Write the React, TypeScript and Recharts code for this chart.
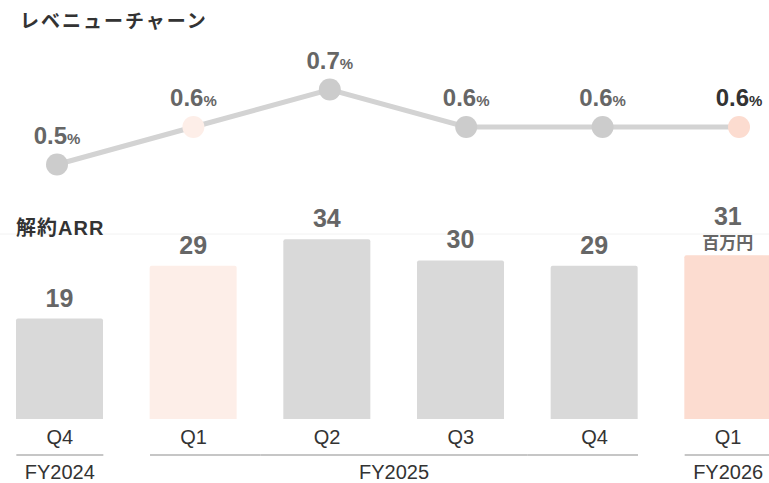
import { BarChart, Bar, Cell, LineChart, Line, XAxis, YAxis, LabelList, ReferenceLine } from "recharts";

// ---------------------------------------------------------------------------
// Data
// ---------------------------------------------------------------------------

const QUARTERS = ["Q4", "Q1", "Q2", "Q3", "Q4", "Q1"];
const FISCAL_YEARS = ["FY2024", "FY2025", "FY2025", "FY2025", "FY2025", "FY2026"];
const CHURN_RATE = [0.5, 0.6, 0.7, 0.6, 0.6, 0.6]; // %
const CHURN_ARR = [19, 29, 34, 30, 29, 31]; // 百万円

const data = QUARTERS.map((q, i) => ({
  key: `${FISCAL_YEARS[i]}-${q}`,
  rate: CHURN_RATE[i],
  arr: CHURN_ARR[i],
}));

// ---------------------------------------------------------------------------
// Styles
// ---------------------------------------------------------------------------

const GRAY = "#d9d9d9";
const DOT_GRAY = "#cccccc";
const PEACH_LIGHT = "#fdeee8";
const PEACH = "#fcdcd0";
const FILLS_BAR = [GRAY, PEACH_LIGHT, GRAY, GRAY, GRAY, PEACH];
const FILLS_DOT = [DOT_GRAY, PEACH_LIGHT, DOT_GRAY, DOT_GRAY, DOT_GRAY, PEACH];
const LATIN = "'Liberation Sans', Arial, sans-serif";
const JP = "'Liberation Sans', 'Noto Sans CJK JP', sans-serif";

const BAR_SIZE = 87;
const BAND = 802 / QUARTERS.length;

// ---------------------------------------------------------------------------
// Custom renderers
// ---------------------------------------------------------------------------

function RateLabel(props: any) {
  const { x, y, value, index } = props;
  const last = index === CHURN_RATE.length - 1;
  return (
    <text
      x={x}
      y={y - 21}
      textAnchor="middle"
      fontFamily={LATIN}
      fontWeight="bold"
      fill={last ? "#333333" : "#666666"}
    >
      <tspan fontSize={24}>{Number(value).toFixed(1)}</tspan>
      <tspan fontSize={15}>%</tspan>
    </text>
  );
}

function ArrLabel(props: any) {
  const { x, y, width, value, index } = props;
  const cx = x + width / 2;
  if (index === CHURN_ARR.length - 1) {
    return (
      <g>
        <text x={cx} y={y - 30} textAnchor="middle" fontFamily={LATIN} fontWeight="bold" fontSize={25} fill="#666666">
          {value}
        </text>
        <text x={cx} y={y - 6} textAnchor="middle" fontFamily={JP} fontWeight="bold" fontSize={17} fill="#666666">
          百万円
        </text>
      </g>
    );
  }
  return (
    <text x={cx} y={y - 12} textAnchor="middle" fontFamily={LATIN} fontWeight="bold" fontSize={25} fill="#666666">
      {value}
    </text>
  );
}

function QuarterTick(props: any) {
  const { x, y, index } = props;
  const fy = FISCAL_YEARS[index];
  const groupStart = index === 0 || FISCAL_YEARS[index - 1] !== fy;
  const groupEnd = index === FISCAL_YEARS.length - 1 || FISCAL_YEARS[index + 1] !== fy;
  const left = groupStart ? x - BAR_SIZE / 2 : x - BAND / 2;
  const right = groupEnd ? x + BAR_SIZE / 2 : x + BAND / 2;
  const groupLen = FISCAL_YEARS.filter((f) => f === fy).length;
  return (
    <g>
      <text x={x} y={y + 25} textAnchor="middle" fontFamily={LATIN} fontSize={20} fill="#333333">
        {QUARTERS[index]}
      </text>
      <line x1={left} x2={right} y1={y + 36} y2={y + 36} stroke="#b3b3b3" strokeWidth={1.5} />
      {groupStart && (
        <text
          x={x + ((groupLen - 1) * BAND) / 2}
          y={y + 60}
          textAnchor="middle"
          fontFamily={LATIN}
          fontSize={20}
          fill="#333333"
        >
          {fy}
        </text>
      )}
    </g>
  );
}

// ---------------------------------------------------------------------------
// Component
// ---------------------------------------------------------------------------

export default function App() {
  return (
    <div
      style={{
        position: "fixed",
        left: 0,
        top: 0,
        width: 769,
        height: 483,
        overflow: "hidden",
        background: "#ffffff",
      }}
    >
      <div
        style={{
          position: "absolute",
          left: 20,
          top: 6,
          fontFamily: JP,
          fontWeight: "bold",
          fontSize: 19,
          letterSpacing: 2,
          color: "#333333",
        }}
      >
        レベニューチャーン
      </div>

      {/* Churn rate line */}
      <div style={{ position: "absolute", left: 0, top: 0 }}>
        <LineChart width={769} height={202} data={data} margin={{ top: 52, right: 30, bottom: 0, left: 57 }}>
          <XAxis dataKey="key" hide scale="point" />
          <YAxis hide domain={[0.4, 0.8]} />
          <Line
            dataKey="rate"
            stroke="#d3d3d3"
            strokeWidth={5}
            isAnimationActive={false}
            dot={(p: any) => (
              <circle key={`dot-${p.index}`} cx={p.cx} cy={p.cy} r={11} fill={FILLS_DOT[p.index]} />
            )}
            activeDot={false}
          >
            <LabelList dataKey="rate" content={RateLabel} />
          </Line>
        </LineChart>
      </div>

      {/* Churned ARR bars */}
      <div style={{ position: "absolute", left: -8, top: 0 }}>
        <BarChart width={810} height={483} data={data} margin={{ top: 234, right: 7, bottom: 4, left: 1 }}>
          <XAxis
            dataKey="key"
            height={60}
            axisLine={false}
            tickLine={false}
            tickSize={0}
            tickMargin={0}
            interval={0}
            tick={(p: any) => <QuarterTick {...p} />}
          />
          <YAxis hide domain={[0, 35]} />
          <ReferenceLine y={35} stroke="#f2f2f2" strokeWidth={1} />
          <Bar dataKey="arr" barSize={BAR_SIZE} radius={[2, 2, 0, 0]} isAnimationActive={false}>
            {data.map((d, i) => (
              <Cell key={d.key} fill={FILLS_BAR[i]} />
            ))}
            <LabelList dataKey="arr" content={ArrLabel} />
          </Bar>
        </BarChart>
      </div>

      <div
        style={{
          position: "absolute",
          left: 16,
          top: 212,
          fontFamily: JP,
          fontWeight: "bold",
          fontSize: 20,
          letterSpacing: 1,
          color: "#333333",
        }}
      >
        解約ARR
      </div>
    </div>
  );
}
